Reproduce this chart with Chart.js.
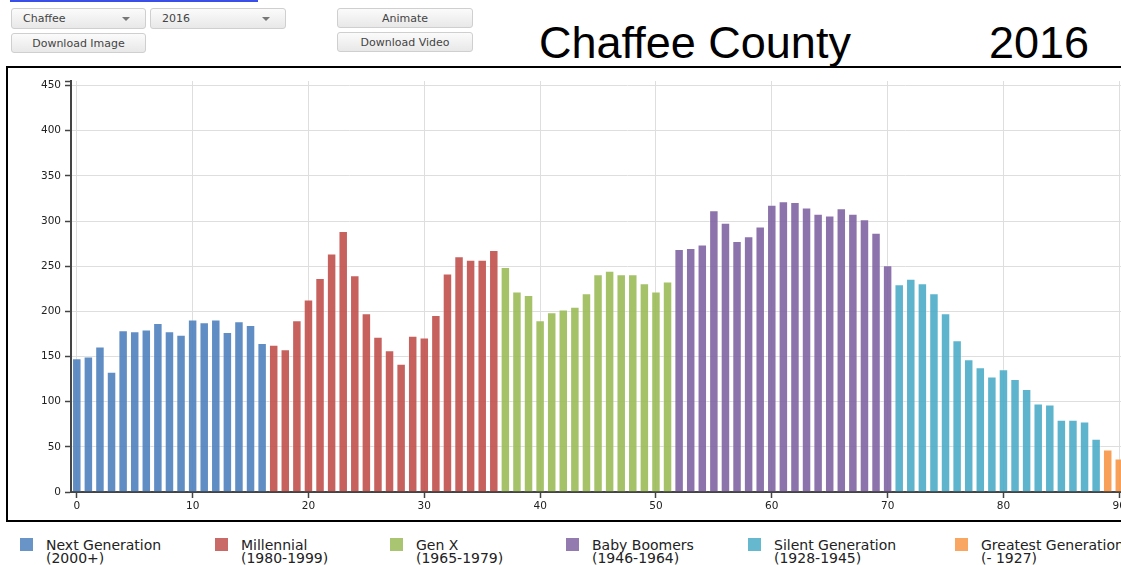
<!DOCTYPE html>
<html>
<head>
<meta charset="utf-8">
<script src="https://cdn.jsdelivr.net/npm/chart.js@4.4.1/dist/chart.umd.min.js"></script>
<style>
  html, body { margin: 0; padding: 0; background: #fff; overflow: hidden; width: 1121px; height: 565px; }
  body { position: relative; font-family: "DejaVu Sans", Verdana, sans-serif; }

  .link { position: absolute; left: 10px; top: 0px; width: 248px; height: 2px; background: #3a4fe8; }

  .ctl {
    position: absolute; box-sizing: border-box; height: 21px;
    border: 1px solid #cfcfcf; border-radius: 3px;
    background: linear-gradient(#fbfbfb, #e8e8e8);
    font-size: 11px; color: #444; line-height: 19px;
  }
  .btn { text-align: center; }
  .sel { padding-left: 11px; }
  .sel::after {
    content: ""; position: absolute; right: 15px; top: 8px;
    border-left: 4px solid transparent; border-right: 4px solid transparent;
    border-top: 4px solid #777;
  }

  .title { position: absolute; top: 20px; font-family: "Liberation Sans", Arial, sans-serif; font-size: 45px; line-height: 45px; color: #000; }

  #frame { position: absolute; left: 6px; top: 66px; width: 1200px; height: 456px; box-sizing: border-box; border: 2px solid #000; }
  #chart { position: absolute; left: 0; top: 0; }

  .leg { position: absolute; top: 538px; font-size: 14px; line-height: 12.5px; color: #222; white-space: nowrap; }
  .leg .sw { position: absolute; left: 0; top: 0; width: 13px; height: 13px; }
  .leg .tx { position: absolute; left: 26px; top: 1px; }
</style>
</head>
<body>

<div class="link"></div>

<div class="ctl sel" style="left:11px; top:8px; width:135px;">Chaffee</div>
<div class="ctl sel" style="left:150px; top:8px; width:136px;">2016</div>
<div class="ctl btn" style="left:11px; top:33px; width:135px; height:20px;">Download Image</div>
<div class="ctl btn" style="left:337px; top:8px; width:136px; height:20px;">Animate</div>
<div class="ctl btn" style="left:337px; top:32px; width:136px; height:20px;">Download Video</div>

<div class="title" style="left:539px;">Chaffee County</div>
<div class="title" style="left:989px;">2016</div>

<div id="frame">
  <canvas id="chart" width="1175" height="452"></canvas>
</div>

<div id="legend"></div>

<script>
/* =========================
   Data (Chaffee County, 2016)
========================= */

// population by single year of age, starting at age 0
const population = [
  148, 150, 161, 133, 179, 178, 180, 187, 178, 174, 191, 188, 191, 177, 189, 185, 165,
  163, 158, 190, 213, 237, 264, 289, 240, 198, 172, 157, 142, 173, 171, 196, 242, 261, 257, 257, 268,
  249, 222, 218, 190, 199, 202, 205, 220, 241, 245, 241, 241, 231, 222, 233,
  269, 270, 274, 312, 298, 278, 283, 294, 318, 322, 321, 315, 308, 306, 314, 308, 302, 287, 251,
  230, 236, 231, 220, 198, 168, 147, 138, 128, 136, 125, 114, 98, 97, 80, 80, 78, 59,
  47, 37
];

const genNames = ["Next Generation", "Millennial", "Gen X", "Baby Boomers", "Silent Generation", "Greatest Generation"];
const genYears = ["(2000+)", "(1980-1999)", "(1965-1979)", "(1946-1964)", "(1928-1945)", "(- 1927)"];
const genFirstAge = [0, 17, 37, 52, 71, 89];
const genColors = ["#4f81bd", "#c0504d", "#9bbb59", "#8064a2", "#4bacc6", "#f79646"];

const yTicks = [0, 50, 100, 150, 200, 250, 300, 350, 400, 450];
const yTop = 455;

/* =========================
   Legend (html)
========================= */

const legendLeft = [20, 215, 390, 566, 748, 955];
const legend = document.getElementById("legend");

genNames.forEach((name, g) => {
  const item = document.createElement("div");
  item.className = "leg";
  item.style.left = legendLeft[g] + "px";
  item.innerHTML =
    `<div class="sw" style="background:${genColors[g]}d9"></div>` +
    `<div class="tx">${name}<br>${genYears[g]}</div>`;
  legend.appendChild(item);
});

/* =========================
   Chart
========================= */

const datasets = genNames.map((name, g) => {
  const first = genFirstAge[g];
  const last = g + 1 < genFirstAge.length ? genFirstAge[g + 1] : population.length;
  const points = [];
  for (let age = first; age < last; age++) {
    points.push({ x: age, y: population[age] });
  }
  return {
    label: name,
    data: points,
    backgroundColor: genColors[g] + "e6",
    borderColor: "rgba(255,255,255,0.35)",
    borderWidth: 1,
    borderSkipped: "start",
    grouped: false,
    barPercentage: 0.82,
    categoryPercentage: 1
  };
});

const tickFont = { family: "DejaVu Sans", size: 10.5 };

new Chart(document.getElementById("chart"), {
  type: "bar",
  data: { datasets: datasets },
  options: {
    responsive: false,
    animation: false,
    layout: { padding: { top: 13, right: 0, bottom: 0, left: 0 } },
    plugins: {
      legend: { display: false },
      tooltip: { enabled: false }
    },
    scales: {
      x: {
        type: "linear",
        min: -0.5,
        max: 95.5,
        offset: false,
        ticks: { stepSize: 10, includeBounds: false, maxRotation: 0, font: tickFont, color: "#222", padding: 2 },
        grid: { offset: false, color: "#dedede", tickColor: "#444", tickLength: 6, tickWidth: 1.5 },
        border: { color: "#444", width: 2 },
        afterFit: s => { s.height = 28; }
      },
      y: {
        min: 0,
        max: yTop,
        ticks: {
          font: tickFont,
          color: "#222",
          padding: 4,
          callback: v => yTicks.includes(v) ? v : ""
        },
        afterBuildTicks: s => {
          s.ticks = yTicks.concat([yTop]).map(v => ({ value: v }));
        },
        grid: {
          offset: false,
          color: ctx => (ctx.tick && yTicks.includes(ctx.tick.value)) ? "#dedede" : "rgba(0,0,0,0)",
          tickColor: "#444",
          tickLength: 6,
          tickWidth: 1.5
        },
        border: { color: "#444", width: 2 },
        afterFit: s => { s.width = 63; }
      }
    }
  }
});
</script>
</body>
</html>
